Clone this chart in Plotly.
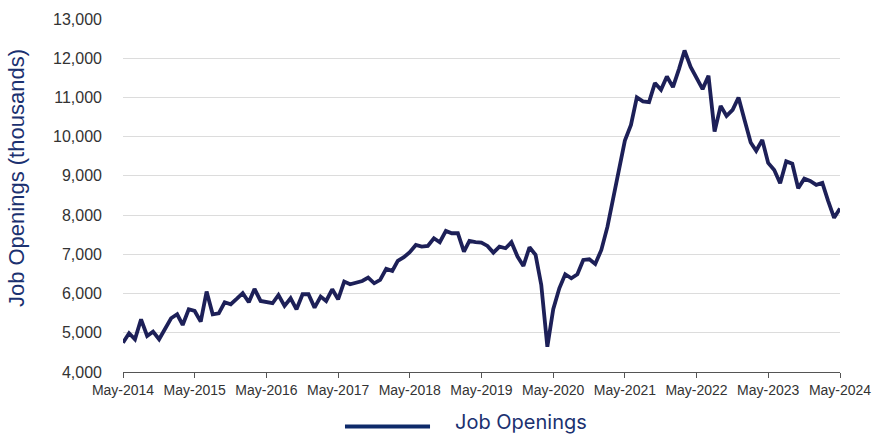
import pandas as pd
import plotly.graph_objects as go

months = pd.date_range("2014-05-01", periods=121, freq="MS")
job_openings = [
    4747, 4987, 4834, 5344, 4918, 5028, 4834, 5115, 5370, 5472,
    5199, 5599, 5556, 5284, 6050, 5472, 5497, 5778, 5727, 5862,
    6008, 5778, 6117, 5811, 5778, 5753, 5964, 5684, 5880, 5599,
    5982, 5982, 5641, 5922, 5811, 6109, 5854, 6304, 6237, 6279,
    6321, 6406, 6262, 6347, 6628, 6577, 6832, 6926, 7053, 7240,
    7197, 7215, 7411, 7309, 7597, 7537, 7537, 7069, 7342, 7309,
    7300, 7215, 7044, 7197, 7155, 7309, 6942, 6704, 7181, 6985,
    6219, 4645, 5599, 6135, 6492, 6390, 6492, 6857, 6875, 6755,
    7112, 7700, 8400, 9150, 9900, 10300, 11000, 10900, 10880, 11366,
    11194, 11534, 11262, 11730, 12196, 11780, 11480, 11212, 11551, 10130,
    10785, 10530, 10683, 11000, 10420, 9850, 9640, 9918, 9330, 9150,
    8814, 9370, 9310, 8686, 8930, 8870, 8771, 8820, 8370, 7930,
    8170,
]
tick_dates = months[::12]
tick_labels = [d.strftime("%b-%Y") for d in tick_dates]
series_name = "Job Openings"
y_title = "Job Openings (thousands)"

LINE = "#1d2058"
NAVY = "#1b3170"

fig = go.Figure()
fig.add_trace(go.Scatter(
    x=months, y=job_openings, mode="lines", name=series_name,
    line=dict(color=LINE, width=3.8), showlegend=False,
))

fig.update_layout(
    width=876, height=436,
    margin=dict(l=123, r=36, t=19, b=64),
    plot_bgcolor="white", paper_bgcolor="white",
    font=dict(family="Liberation Sans, Arial, sans-serif", color="#333333"),
    showlegend=False,
)
fig.update_xaxes(
    range=[months[0], months[-1]], automargin=False,
    tickmode="array", tickvals=tick_dates, ticktext=tick_labels,
    showgrid=False, zeroline=False,
    showline=True, linecolor="#555555", linewidth=1,
    ticks="outside", ticklen=5, tickcolor="#555555", tickwidth=1,
    tickfont=dict(size=14, color="#333333"),
)
fig.update_yaxes(
    range=[4000, 13000], dtick=1000, tickformat=",", automargin=False,
    showgrid=True, gridcolor="#dcdcdc", gridwidth=1,
    zeroline=False, showline=False, ticks="",
    ticklabelstandoff=20,
    tickfont=dict(size=16, color="#333333"),
)

# y-axis title
fig.add_annotation(xref="paper", yref="paper", x=-0.1485, y=0.548,
                   xanchor="center", yanchor="middle", showarrow=False,
                   textangle=-90, text=y_title,
                   font=dict(size=22, color=NAVY))

# legend key
fig.add_shape(type="line", xref="paper", yref="paper",
              x0=0.3096, x1=0.4282, y0=-0.1544, y1=-0.1544,
              line=dict(color="#0e2a6a", width=4))
fig.add_annotation(xref="paper", yref="paper", x=0.4603, y=-0.1813,
                   xanchor="left", yanchor="bottom", showarrow=False,
                   text=series_name,
                   font=dict(family="Inter, Liberation Sans, sans-serif", size=20, color=NAVY))

fig.write_html("out.html")
